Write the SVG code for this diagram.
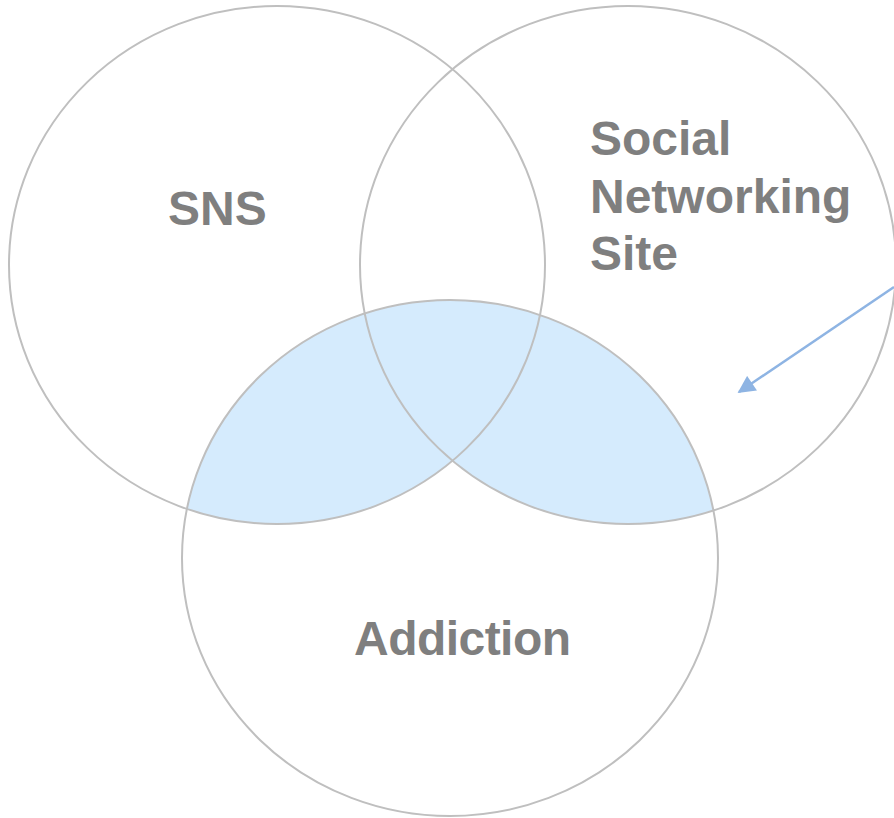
<svg xmlns="http://www.w3.org/2000/svg" width="894" height="818" viewBox="0 0 894 818">
  <style>
    .ring { fill: none; stroke: #BFBFBF; stroke-width: 2; }
    .shade { fill: #D5EBFD; stroke: none; }
    .label { font-family: "Liberation Sans", Arial, sans-serif; font-weight: bold; font-size: 48px; fill: #7F7F7F; }
    .conn { stroke: #8EB4E3; stroke-width: 2.5; fill: none; }
  </style>
  <defs>
    <clipPath id="clipBottom">
      <ellipse cx="450" cy="558" rx="268" ry="258"/>
    </clipPath>
    <marker id="arrow" viewBox="0 0 10 10" refX="9" refY="5" markerWidth="7.5" markerHeight="7" orient="auto" markerUnits="strokeWidth">
      <path d="M0,0 L10,5 L0,10 z" fill="#8EB4E3"/>
    </marker>
  </defs>
  <rect width="894" height="818" fill="#FFFFFF"/>
  <g id="shading" clip-path="url(#clipBottom)">
    <ellipse class="shade" cx="277" cy="265" rx="268" ry="259"/>
    <ellipse class="shade" cx="628" cy="265" rx="268" ry="259"/>
  </g>
  <g id="node-sns">
    <ellipse class="ring" cx="277" cy="265" rx="268" ry="259"/>
    <text class="label" x="168" y="225">SNS</text>
  </g>
  <g id="node-social">
    <ellipse class="ring" cx="628" cy="265" rx="268" ry="259"/>
    <text class="label" x="590" y="155">Social</text>
    <text class="label" x="590" y="213">Networking</text>
    <text class="label" x="590" y="270">Site</text>
  </g>
  <g id="node-addiction">
    <ellipse class="ring" cx="450" cy="558" rx="268" ry="258"/>
    <text class="label" x="354" y="655" textLength="217">Addiction</text>
  </g>
  <g id="connectors">
    <line class="conn" x1="894" y1="287" x2="739" y2="392" marker-end="url(#arrow)"/>
  </g>
</svg>
